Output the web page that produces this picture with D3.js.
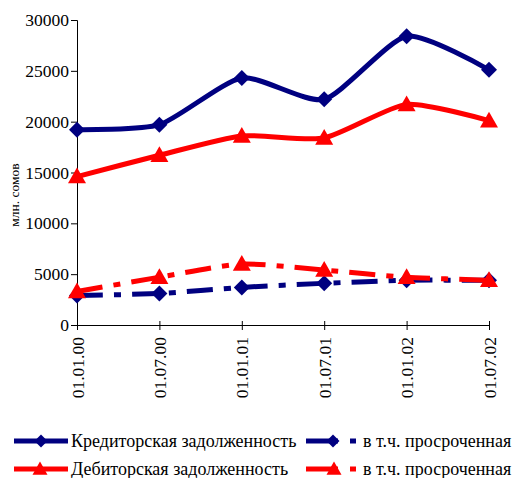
<!DOCTYPE html>
<html><head><meta charset="utf-8">
<script src="https://cdn.jsdelivr.net/npm/d3@7"></script>
<style>body{margin:0;background:#fff}svg{display:block}svg text{font-family:"Liberation Serif","Times New Roman",serif !important}</style>
</head><body><svg id="c" width="514" height="478"></svg>
<script>
const categories = ["01.01.00","01.07.00","01.01.01","01.07.01","01.01.02","01.07.02"];
const kredit = [19200,19700,24300,22200,28400,25100];
const debit = [14600,16700,18600,18400,21700,20100];
const kreditOverdue = [2900,3100,3700,4100,4400,4400];
const debitOverdue = [3300,4700,6000,5400,4700,4400];
const yTicks = [0,5000,10000,15000,20000,25000,30000];
const seriesNames = ["Кредиторская задолженность","в т.ч. просроченная","Дебиторская задолженность","в т.ч. просроченная"];
const yLabel = "млн. сомов";

const FONT = "Liberation Serif";
const navy = "#000080", red = "#ff0000";
const svg = d3.select("#c").attr("font-family", FONT);
const x = d3.scalePoint().domain(categories).range([77, 489]);
const y = d3.scaleLinear().domain([0,30000]).range([325, 20]);

// axes
const ya = svg.append("g").attr("transform","translate(77,0)")
  .call(d3.axisLeft(y).tickValues(yTicks).tickFormat(d3.format("d")).tickSize(6).tickPadding(2));
ya.attr("font-family", FONT);
ya.select(".domain").attr("stroke","#000");
ya.selectAll("text").attr("font-family", FONT).attr("font-size",17.5).attr("fill","#000");
const xa = svg.append("g").attr("transform","translate(0,325)")
  .call(d3.axisBottom(x).tickSizeInner(6).tickSizeOuter(0));
xa.attr("font-family", FONT);
xa.select(".domain").attr("stroke","#000");
xa.selectAll(".tick line").attr("y1",-4).attr("y2",5);
xa.selectAll("text").attr("font-family", FONT).attr("font-size",17.5).attr("fill","#000")
  .attr("transform","rotate(-90)").attr("text-anchor","end")
  .attr("x",-12).attr("y",0).attr("dy","0.35em");

svg.append("text").attr("transform","translate(19,195) rotate(-90)")
  .attr("font-family", FONT).attr("text-anchor","middle").attr("font-size",13.5).text(yLabel);

const series = [
  {v:kredit, c:navy, m:"diamond", dash:null},
  {v:debit, c:red, m:"triangle", dash:null},
  {v:kreditOverdue, c:navy, m:"diamond", dash:"26,11,7,11"},
  {v:debitOverdue, c:red, m:"triangle", dash:"26,11,7,11"}
];
const line = d3.line().x((d,i)=>x(categories[i])).y(d=>y(d)).curve(d3.curveCardinal.tension(0.35));
function marker(g, type, cx, cy, col, s){
  if(type==="diamond"){
    g.append("path").attr("d",`M${cx},${cy-s}L${cx+s},${cy}L${cx},${cy+s}L${cx-s},${cy}Z`).attr("fill",col);
  } else {
    g.append("path").attr("d",`M${cx},${cy-s}L${cx+s},${cy+s*0.75}L${cx-s},${cy+s*0.75}Z`).attr("fill",col);
  }
}
[2,3,0,1].forEach(k=>{
  const s = series[k];
  svg.append("path").attr("d",line(s.v)).attr("fill","none").attr("stroke",s.c)
    .attr("stroke-width",5).attr("stroke-dasharray",s.dash);
  const g = svg.append("g");
  s.v.forEach((d,i)=>marker(g,s.m,x(categories[i]),y(d),s.c, s.m==="diamond"?8:9));
});

// legend
const leg = [
  {x1:14,x2:68,mx:41,y:441,c:navy,m:"diamond",tx:71,t:seriesNames[0],dash:false},
  {x1:306,x2:338,mx:333,y:441,c:navy,m:"diamond",tx:363,t:seriesNames[1],dash:true},
  {x1:14,x2:68,mx:40,y:469,c:red,m:"triangle",tx:71,t:seriesNames[2],dash:false},
  {x1:306,x2:338,mx:334,y:469,c:red,m:"triangle",tx:363,t:seriesNames[3],dash:true}
];
leg.forEach(l=>{
  const g = svg.append("g");
  g.append("line").attr("x1",l.x1).attr("x2",l.x2).attr("y1",l.y).attr("y2",l.y).attr("stroke",l.c).attr("stroke-width",5);
  if(l.dash) g.append("line").attr("x1",350).attr("x2",356).attr("y1",l.y).attr("y2",l.y).attr("stroke",l.c).attr("stroke-width",5);
  marker(g,l.m,l.mx,l.y,l.c,l.m==="diamond"?6.5:7.5);
  g.append("text").attr("font-family", FONT).attr("x",l.tx).attr("y",l.y+6).attr("font-size",18).text(l.t);
});
</script></body></html>
